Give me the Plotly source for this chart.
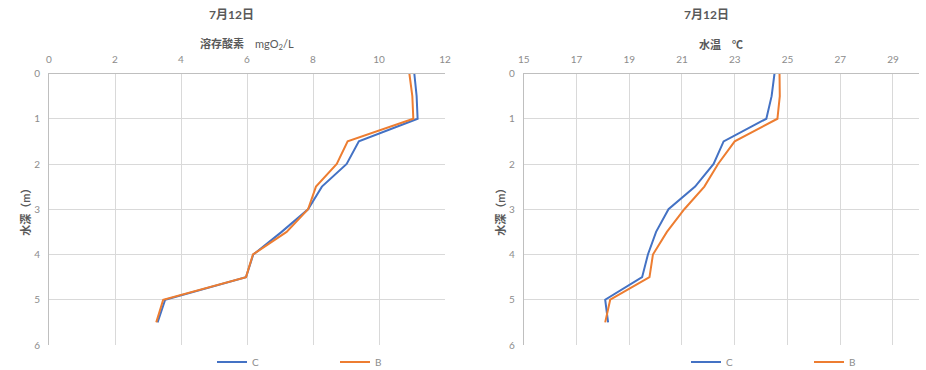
import plotly.graph_objects as go

# Depth of each sampling point (m)
depth = [0, 0.5, 1, 1.5, 2, 2.5, 3, 3.5, 4, 4.5, 5, 5.5]

# Dissolved oxygen (mgO2/L)
do_c = [11.07, 11.14, 11.17, 9.39, 9.02, 8.27, 7.85, 7.05, 6.19, 5.97, 3.52, 3.29]
do_b = [10.92, 11.01, 11.04, 9.05, 8.72, 8.09, 7.85, 7.2, 6.18, 5.97, 3.46, 3.25]

# Water temperature (°C)
wt_c = [24.51, 24.40, 24.20, 22.58, 22.20, 21.50, 20.49, 20.02, 19.71, 19.49, 18.09, 18.20]
wt_b = [24.70, 24.71, 24.62, 23.00, 22.37, 21.85, 21.09, 20.43, 19.90, 19.77, 18.28, 18.09]

series_names = ["C", "B"]
colors = ["#4472C4", "#ED7D31"]

W, H = 926, 370
FONT = "Lato, 'Noto Sans CJK JP', sans-serif"
GRID = "#d9d9d9"
AXIS = "#bfbfbf"
TICK = "#8c8c8c"
TITLE = "#595959"

fig = go.Figure()

for vals, name, col in zip([do_c, do_b], series_names, colors):
    fig.add_trace(go.Scatter(x=vals, y=depth, mode="lines", name=name,
                             line=dict(color=col, width=2),
                             xaxis="x", yaxis="y", legend="legend"))
for vals, name, col in zip([wt_c, wt_b], series_names, colors):
    fig.add_trace(go.Scatter(x=vals, y=depth, mode="lines", name=name,
                             line=dict(color=col, width=2),
                             xaxis="x2", yaxis="y2", legend="legend2"))

ydom = [1 - 345 / H, 1 - 73.5 / H]

def xax(dom, rng, dtick, anchor):
    return dict(domain=dom, range=rng, dtick=dtick, tick0=rng[0], side="top",
                anchor=anchor, showline=True, linecolor=AXIS, linewidth=1,
                showgrid=True, gridcolor=GRID, gridwidth=1, zeroline=False,
                ticks="outside", ticklen=6, tickcolor="rgba(0,0,0,0)",
                tickfont=dict(size=10, color=TICK, family=FONT),
                automargin=False, fixedrange=True)

def yax(anchor):
    return dict(domain=ydom, range=[6, 0], dtick=1, anchor=anchor,
                showline=True, linecolor=AXIS, linewidth=1,
                showgrid=True, gridcolor=GRID, gridwidth=1, zeroline=False,
                ticks="outside", ticklen=6, tickcolor="rgba(0,0,0,0)",
                tickfont=dict(size=10, color=TICK, family=FONT),
                title=dict(text="<b>水深（m）</b>", standoff=1,
                           font=dict(size=11, color=TITLE, family=FONT)),
                automargin=False, fixedrange=True)

legend_style = dict(orientation="h", yanchor="middle", y=1 - 362 / H,
                    xanchor="left", entrywidth=78, entrywidthmode="pixels",
                    font=dict(size=10, color=TICK, family=FONT),
                    bgcolor="rgba(0,0,0,0)", itemclick=False, itemdoubleclick=False)

def label(text, xpx, ypx, size):
    return dict(text=text, x=xpx / W, y=1 - ypx / H, xref="paper", yref="paper",
                xanchor="center", yanchor="middle", showarrow=False,
                font=dict(size=size, color=TITLE, family=FONT))

fig.update_layout(
    width=W, height=H,
    margin=dict(l=0, r=0, t=0, b=0, pad=0, autoexpand=False),
    paper_bgcolor="white", plot_bgcolor="white",
    font=dict(family=FONT),
    xaxis=xax([49 / W, 445 / W], [0, 12], 2, "y"),
    yaxis=yax("x"),
    xaxis2=xax([523.7 / W, 919.3 / W], [15, 30], 2, "y2"),
    yaxis2=yax("x2"),
    legend=dict(legend_style, x=212 / W),
    legend2=dict(legend_style, x=686 / W),
    annotations=[
        label("<b>7月12日</b>", 232, 14, 12),
        label("<b>7月12日</b>", 706, 14, 12),
        label("<b>溶存酸素</b>　mgO<sub>2</sub>/L", 247, 45, 11),
        label("<b>水温　℃</b>", 721, 45, 11),
    ],
)

fig.write_html("out.html")
